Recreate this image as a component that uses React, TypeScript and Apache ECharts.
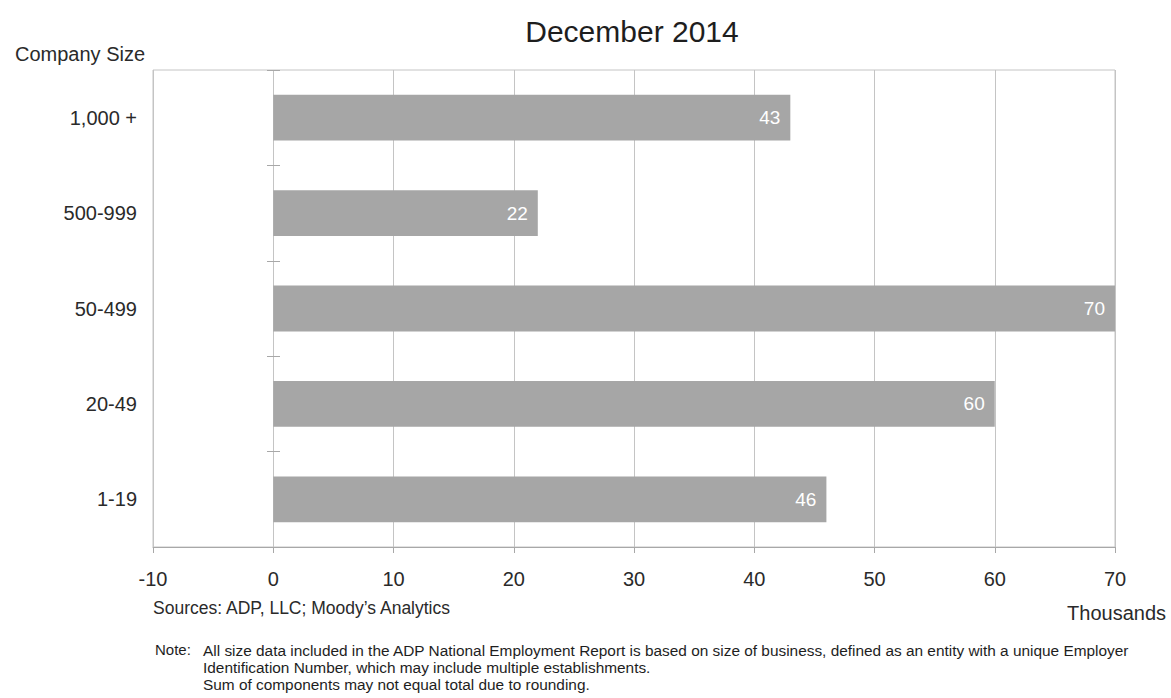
import React, { useEffect, useRef } from "react";
import * as echarts from "echarts";

// Company size categories, listed top to bottom
const sizes = ["1,000 +", "500-999", "50-499", "20-49", "1-19"];
// Employment change, thousands
const jobs = [43, 22, 70, 60, 46];
const xTicks = { min: -10, max: 70, interval: 10 };

const FONT = "'Liberation Sans', Arial, sans-serif";
const TEXT = "#2a2a2a";

export default function App() {
  const ref = useRef<HTMLDivElement>(null);

  useEffect(() => {
    if (!ref.current) return;
    const chart = echarts.init(ref.current, undefined, { renderer: "svg" });
    const gridColor = "#c4c4c4";
    const axisColor = "#a8a8a8";
    chart.setOption({
      animation: false,
      backgroundColor: "#ffffff",
      textStyle: { fontFamily: FONT },
      title: {
        text: "December 2014",
        left: 627,
        top: 11,
        textAlign: "center",
        textStyle: { fontSize: 30, fontWeight: "normal", color: "#1e1e1e", fontFamily: FONT },
      },
      grid: {
        left: 153,
        right: 56,
        top: 70,
        bottom: 151,
        show: true,
        borderColor: gridColor,
        borderWidth: 1,
        containLabel: false,
      },
      xAxis: {
        type: "value",
        min: xTicks.min,
        max: xTicks.max,
        interval: xTicks.interval,
        axisLine: { show: true, onZero: false, lineStyle: { color: axisColor } },
        axisTick: { show: true, length: 6, lineStyle: { color: axisColor } },
        splitLine: { show: true, lineStyle: { color: gridColor, width: 1 } },
        axisLabel: { fontSize: 20, color: TEXT, margin: 22, fontFamily: FONT },
      },
      yAxis: [
        {
          type: "category",
          data: sizes,
          inverse: true,
          axisLine: { show: false },
          axisTick: { show: false },
          axisLabel: { fontSize: 20, color: TEXT, margin: 16, fontFamily: FONT },
        },
        {
          // short marks crossing the zero line between categories
          type: "category",
          data: sizes,
          inverse: true,
          position: "left",
          offset: -127,
          axisLine: { show: false },
          axisTick: { show: true, length: 13, lineStyle: { color: axisColor } },
          axisLabel: { show: false },
        },
      ],
      series: [
        {
          type: "bar",
          yAxisIndex: 0,
          data: jobs,
          barWidth: "48%",
          itemStyle: { color: "#a6a6a6" },
          label: {
            show: true,
            position: "insideRight",
            distance: 10,
            color: "#ffffff",
            fontSize: 19,
            fontFamily: FONT,
            formatter: (p: any) => String(p.value),
          },
        },
      ],
      graphic: [
        {
          type: "text",
          left: 15,
          top: 44,
          style: { text: "Company Size", fontSize: 20, fill: TEXT, fontFamily: FONT },
        },
        {
          type: "text",
          left: 153,
          top: 599,
          style: { text: "Sources: ADP, LLC; Moody\u2019s Analytics", fontSize: 17.5, fill: TEXT, fontFamily: FONT },
        },
        {
          type: "text",
          right: 5,
          top: 603,
          style: { text: "Thousands", fontSize: 20, fill: TEXT, fontFamily: FONT },
        },
        {
          type: "text",
          left: 155,
          top: 642,
          style: { text: "Note:", fontSize: 15, fill: "#1e1e1e", fontFamily: FONT },
        },
        {
          type: "text",
          left: 203,
          top: 642,
          style: {
            text:
              "All size data included in the ADP National Employment Report is based on size of business, defined as an entity with a unique Employer\nIdentification Number, which may include multiple establishments.\nSum of components may not equal total due to rounding.",
            fontSize: 15.4,
            lineHeight: 17,
            fill: "#1e1e1e",
            fontFamily: FONT,
          },
        },
      ],
    });
    return () => chart.dispose();
  }, []);

  return (
    <div
      ref={ref}
      style={{ position: "absolute", left: 0, top: 0, width: 1171, height: 698, background: "#fff" }}
    />
  );
}
